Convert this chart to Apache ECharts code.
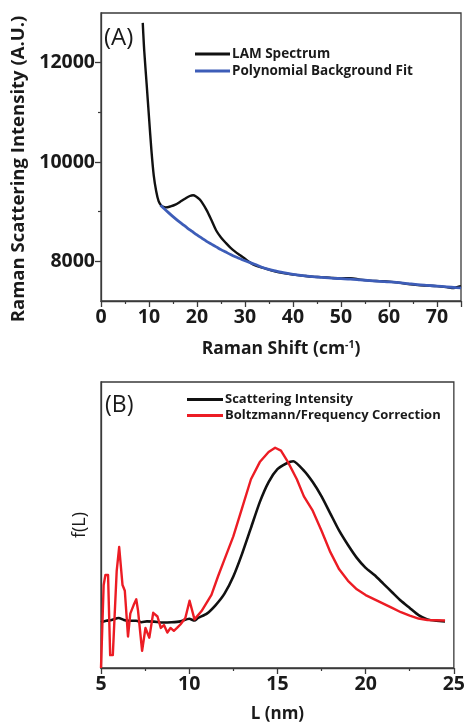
<!DOCTYPE html>
<html>
<head>
<meta charset="utf-8">
<script src="https://cdn.jsdelivr.net/npm/echarts@6/dist/echarts.min.js"></script>
<style>
  html, body { margin: 0; padding: 0; background: #ffffff; }
  #chart { width: 468px; height: 724px; }
</style>
</head>
<body>
<div id="chart"></div>
<script>
// Panel A: low-frequency Raman spectrum and background fit
const lamShift = [8.7, 9.0, 9.5, 10.0, 10.5, 11.0, 11.5, 12.0, 12.5, 13.0, 13.5, 14.5, 15.5, 16.5, 17.5, 18.5, 19.2, 19.8, 20.5, 21.0, 22.0, 23.0, 24.0, 25.0, 26.0, 27.0, 28.0, 29.0, 30.0, 31.0, 32.0, 34.0, 36.0, 38.0, 40.0, 42.0, 44.0, 46.0, 48.0, 50.0, 52.0, 54.0, 56.0, 58.0, 60.0, 62.0, 64.0, 66.0, 68.0, 70.0, 72.0, 73.5, 74.5, 75.0];
const lamIntensity = [12800, 12250, 11580, 10900, 10240, 9720, 9410, 9210, 9130, 9095, 9085, 9105, 9140, 9200, 9260, 9315, 9330, 9305, 9250, 9190, 9030, 8830, 8620, 8480, 8370, 8270, 8190, 8120, 8050, 7980, 7920, 7860, 7800, 7760, 7730, 7710, 7690, 7680, 7665, 7655, 7660, 7630, 7610, 7600, 7590, 7570, 7540, 7520, 7510, 7500, 7480, 7460, 7490, 7500];

const fitShift = [12.4, 13, 14, 15, 16, 17, 18, 19, 20, 21, 22, 23, 24, 25, 26, 27, 28, 29, 30, 32, 34, 36, 38, 40, 42, 44, 46, 48, 50, 52, 54, 56, 58, 60, 62, 64, 66, 68, 70, 72, 74, 75];
const fitIntensity = [9130, 9075, 8985, 8900, 8820, 8745, 8670, 8600, 8530, 8465, 8400, 8345, 8290, 8235, 8185, 8135, 8090, 8050, 8010, 7940, 7865, 7810, 7770, 7735, 7710, 7690, 7675, 7660, 7650, 7640, 7625, 7610, 7595, 7585, 7570, 7550, 7530, 7515, 7500, 7485, 7470, 7465];

const intensityLabels = [8000, 10000, 12000];
const intensityMinor = [9000, 11000];

// Panel B: length distributions
const scatterL = [5.0, 5.3, 5.6, 6.0, 6.3, 6.6, 7.0, 7.3, 7.6, 8.0, 8.5, 9.0, 9.5, 10.0, 10.3, 10.5, 11.0, 11.5, 12.0, 12.5, 13.0, 13.5, 14.0, 14.5, 15.0, 15.5, 15.9, 16.5, 17.0, 17.5, 18.0, 18.5, 19.0, 19.5, 20.0, 20.5, 21.0, 21.5, 22.0, 22.5, 23.0, 23.5, 24.0, 24.5];
const scatterF = [16, 16.5, 16.8, 17.5, 16.8, 16.5, 16.5, 16.0, 16.3, 16.2, 15.9, 16.0, 16.3, 17.2, 16.6, 17.5, 19, 22, 26, 32, 40, 49, 58, 65, 69.5, 71.5, 72.3, 69, 65, 60, 54, 48, 43, 38.5, 35, 32.5, 29.5, 26.5, 23.5, 21, 18.5, 17, 16.5, 16.3];

const correctedL = [5.0, 5.15, 5.25, 5.4, 5.52, 5.67, 5.89, 6.03, 6.22, 6.35, 6.53, 6.66, 6.85, 7.0, 7.1, 7.33, 7.52, 7.74, 7.96, 8.2, 8.39, 8.57, 8.76, 8.94, 9.13, 9.31, 9.5, 9.78, 10.02, 10.3, 10.7, 11.26, 11.63, 12.0, 12.5, 13.0, 13.5, 14.0, 14.5, 14.87, 15.2, 15.6, 16.1, 16.5, 17.0, 17.5, 18.0, 18.5, 19.0, 19.5, 20.0, 20.5, 21.0, 21.5, 22.0, 22.5, 23.0, 23.5, 24.0, 24.5];
const correctedF = [0, 29, 32.5, 32.5, 4.5, 4.5, 34, 42.3, 29, 27, 11, 19, 22, 24, 20, 6, 14, 10.6, 19.3, 18, 14, 15, 12.4, 14, 13, 14, 15.2, 17.5, 23.5, 17, 19.9, 25.6, 32, 38, 46, 56, 66, 72, 75.5, 77, 76, 72, 66, 60, 55, 48, 40.5, 34.5, 30.5, 27.5, 25.5, 24, 22.5, 21, 19.5, 18.3, 17.3, 16.8, 16.7, 16.6];

const pair = (xs, ys) => xs.map((x, i) => [x, ys[i]]);

const FONT = '"Open Sans", "Noto Sans", sans-serif';
const AXIS_COLOR = '#3a3a3a';
const TEXT_COLOR = '#1a1a1a';
const BLACK = '#111111';
const BLUE = '#3d5db8';
const RED = '#ec1c24';

const tickLabel = { color: TEXT_COLOR, fontFamily: FONT, fontWeight: 'bold', fontSize: 19.5 };
const axisLine = { show: true, lineStyle: { color: AXIS_COLOR, width: 1.3 } };
const plainNumber = (v) => String(v);

const chart = echarts.init(document.getElementById('chart'), null, { renderer: 'canvas' });

chart.setOption({
  animation: false,
  backgroundColor: '#ffffff',
  grid: [
    { left: 101, top: 13, right: 7, bottom: 423, show: true, borderColor: AXIS_COLOR, borderWidth: 1.3, backgroundColor: 'transparent' },
    { left: 101, top: 382, right: 7, bottom: 53, show: true, borderColor: AXIS_COLOR, borderWidth: 1.3, backgroundColor: 'transparent' }
  ],
  xAxis: [
    {
      gridIndex: 0, type: 'value', min: 0, max: 75, interval: 10,
      axisLine, splitLine: { show: false },
      axisTick: { show: true, length: 6, lineStyle: { color: AXIS_COLOR, width: 1.3 } },
      minorTick: { show: true, splitNumber: 2, length: 3, lineStyle: { color: AXIS_COLOR, width: 1.2 } },
      axisLabel: Object.assign({ margin: 6, showMaxLabel: false, formatter: plainNumber }, tickLabel),
      name: '{a|Raman Shift (cm}{s|-1}{a|)}', nameLocation: 'middle', nameGap: 39,
      nameTextStyle: {
        rich: {
          a: { fontFamily: FONT, fontWeight: 'bold', fontSize: 17.5, color: TEXT_COLOR },
          s: { fontFamily: FONT, fontWeight: 'bold', fontSize: 10.5, color: TEXT_COLOR, verticalAlign: 'top', padding: [0, 0, 8, 0] }
        }
      }
    },
    {
      gridIndex: 1, type: 'value', min: 5, max: 25, interval: 5,
      axisLine, splitLine: { show: false },
      axisTick: { show: true, length: 6, lineStyle: { color: AXIS_COLOR, width: 1.3 } },
      minorTick: { show: true, splitNumber: 2, length: 3, lineStyle: { color: AXIS_COLOR, width: 1.2 } },
      axisLabel: Object.assign({ margin: 6, formatter: plainNumber }, tickLabel),
      name: 'L (nm)', nameLocation: 'middle', nameGap: 38,
      nameTextStyle: { fontFamily: FONT, fontWeight: 'bold', fontSize: 17, color: TEXT_COLOR }
    }
  ],
  yAxis: [
    {
      gridIndex: 0, type: 'value', min: 7200, max: 13000,
      axisLine, splitLine: { show: false },
      axisTick: { show: true, length: 6, customValues: intensityLabels, lineStyle: { color: AXIS_COLOR, width: 1.3 } },
      axisLabel: Object.assign({ margin: 6, customValues: intensityLabels, formatter: plainNumber }, tickLabel),
      name: 'Raman Scattering Intensity (A.U.)', nameLocation: 'middle', nameGap: 62,
      nameTextStyle: { fontFamily: FONT, fontWeight: 'bold', fontSize: 18.5, color: TEXT_COLOR, padding: [0, 24, 0, 0] }
    },
    {
      // short ticks at the odd thousands
      gridIndex: 0, type: 'value', min: 7200, max: 13000, position: 'left',
      axisLine: { show: false }, splitLine: { show: false },
      axisTick: { show: true, length: 3, customValues: intensityMinor, lineStyle: { color: AXIS_COLOR, width: 1.2 } },
      axisLabel: { show: false }
    },
    {
      gridIndex: 1, type: 'value', min: 0, max: 100,
      axisLine, splitLine: { show: false },
      axisTick: { show: false }, axisLabel: { show: false },
      name: 'f(L)', nameLocation: 'middle', nameGap: 12,
      nameTextStyle: { fontFamily: FONT, fontWeight: 'normal', fontSize: 18, color: TEXT_COLOR }
    }
  ],
  legend: [
    {
      data: ['LAM Spectrum', 'Polynomial Background Fit'],
      left: 190, top: 42, orient: 'vertical', itemGap: 3,
      itemWidth: 35, itemHeight: 3, icon: 'rect',
      textStyle: { fontFamily: FONT, fontWeight: 'bold', fontSize: 13.5, color: TEXT_COLOR, padding: [0, 0, 0, -3] },
      selectedMode: false
    },
    {
      data: ['Scattering Intensity', 'Boltzmann/Frequency Correction'],
      left: 182, top: 388, orient: 'vertical', itemGap: 3,
      itemWidth: 36, itemHeight: 3, icon: 'rect',
      textStyle: { fontFamily: FONT, fontWeight: 'bold', fontSize: 13, color: TEXT_COLOR, padding: [0, 0, 0, -3] },
      selectedMode: false
    }
  ],
  graphic: [
    { type: 'text', left: 104, top: 26, style: { text: '(A)', fontFamily: FONT, fontSize: 24, fill: TEXT_COLOR } },
    { type: 'text', left: 105, top: 394, style: { text: '(B)', fontFamily: FONT, fontSize: 23, fill: TEXT_COLOR } }
  ],
  series: [
    {
      name: 'LAM Spectrum', type: 'line', xAxisIndex: 0, yAxisIndex: 0,
      data: pair(lamShift, lamIntensity), smooth: 0.3, showSymbol: false,
      lineStyle: { color: BLACK, width: 2.4 }, itemStyle: { color: BLACK }, z: 2
    },
    {
      name: 'Polynomial Background Fit', type: 'line', xAxisIndex: 0, yAxisIndex: 0,
      data: pair(fitShift, fitIntensity), smooth: 0.3, showSymbol: false,
      lineStyle: { color: BLUE, width: 2.8 }, itemStyle: { color: BLUE }, z: 3
    },
    {
      name: 'Scattering Intensity', type: 'line', xAxisIndex: 1, yAxisIndex: 2,
      data: pair(scatterL, scatterF), smooth: 0.2, showSymbol: false,
      lineStyle: { color: BLACK, width: 2.6 }, itemStyle: { color: BLACK }, z: 2
    },
    {
      name: 'Boltzmann/Frequency Correction', type: 'line', xAxisIndex: 1, yAxisIndex: 2,
      data: pair(correctedL, correctedF), smooth: false, showSymbol: false,
      lineStyle: { color: RED, width: 2.4, join: 'round' }, itemStyle: { color: RED }, z: 3
    }
  ]
});
</script>
</body>
</html>
